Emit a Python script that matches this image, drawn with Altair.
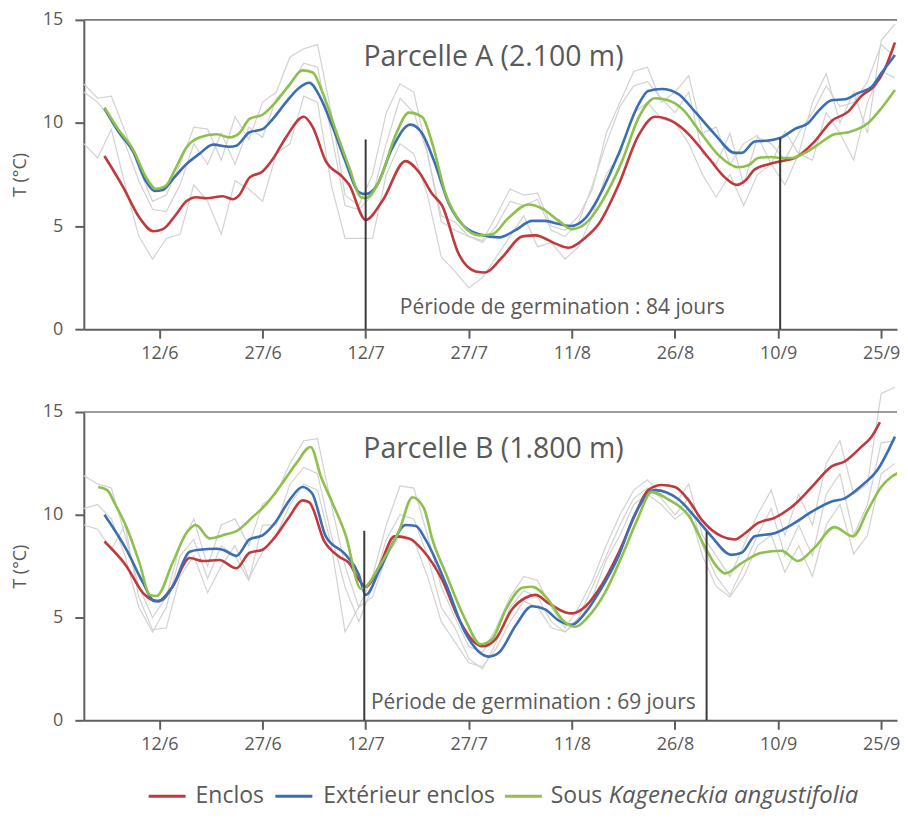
import altair as alt
import pandas as pd

FONT = "Open Sans"
TXT = "#595959"
AXC = "#5f5f5f"

BASE = pd.Timestamp("2014-06-01")
SERIES = ["Enclos", "Extérieur enclos", "Sous Kageneckia angustifolia"]
COLORS = ["#C0393C", "#3C6EB4", "#8DC04C"]
TICK_DATES = ["2014-06-12", "2014-06-27", "2014-07-12", "2014-07-27",
              "2014-08-11", "2014-08-26", "2014-09-10", "2014-09-25"]
TICK_LABELS = ["12/6", "27/6", "12/7", "27/7", "11/8", "26/8", "10/9", "25/9"]
PANEL_TITLES = ["Parcelle A (2.100 m)", "Parcelle B (1.800 m)"]
GERM_TEXTS = ["Période de germination : 84 jours", "Période de germination : 69 jours"]

# ---- Parcelle A: smoothed series (day offset from 1 June, T °C)
A_red_days = [3, 5.7, 8.1, 10.1, 11.5, 13.5, 14.9, 16.4, 17.8, 20.2, 21.7, 22.6, 24.1, 26, 27.5, 29.4, 32, 33.3, 35.2, 37.6,
              38.6, 41, 43.4, 46.8, 48.8, 50.7, 52.1, 54.6, 57, 58.4, 60.9, 63.8, 65.7, 68.6, 70.5, 73, 74.9, 77.8, 80.7, 83.1,
              86, 88, 90.9, 93.3, 95, 96.2, 97.6, 99.6, 101.5, 103.4, 106.3, 108.8, 111.2, 113.1, 115, 116.5, 118]
A_red = [8.4, 6.9, 5.4, 4.75, 4.85, 5.6, 6.2, 6.4, 6.35, 6.45, 6.3, 6.5, 7.35, 7.65, 8.25, 9.3, 10.3, 9.8, 8.15, 7.4,
         7.0, 5.3, 6.2, 8.15, 7.6, 6.55, 6.0, 3.6, 2.8, 2.75, 3.5, 4.5, 4.55, 4.15, 3.95, 4.45, 5.1, 7.0, 9.4, 10.3,
         10.0, 9.45, 8.3, 7.35, 7.0, 7.2, 7.75, 8.0, 8.15, 8.3, 9.1, 10.1, 10.55, 11.3, 11.8, 12.6, 13.9]
A_blue_days = [3, 5, 7.2, 9, 10.3, 11.5, 13, 14.9, 16.8, 18.8, 21.2, 22.2, 24.1, 26, 27.5, 29.4, 31.3, 32.8, 34.3, 36.2,
               38.1, 40, 41, 42.5, 44.9, 47.5, 49.2, 50.9, 53.1, 55, 57.5, 60.4, 62.8, 65.2, 67.1, 69.1, 70.8, 73, 74.9, 77.8,
               80.7, 82.1, 84.1, 86.5, 88.9, 91.8, 94.7, 95.7, 97.6, 99.6, 101.5, 103.4, 105.4, 106.8, 108.8, 110.7, 112.6,
               114.6, 116, 118]
A_blue = [10.7, 9.6, 8.6, 7.2, 6.7, 6.75, 7.3, 8.0, 8.5, 8.95, 8.85, 8.9, 9.55, 9.7, 10.2, 11.0, 11.7, 11.95, 11.3, 9.8,
          8.1, 6.65, 6.55, 6.9, 8.8, 9.92, 9.5, 8.2, 6.1, 5.1, 4.6, 4.45, 4.8, 5.25, 5.25, 5.1, 5.0, 5.4, 6.4, 8.5,
          10.9, 11.55, 11.65, 11.4, 10.55, 9.45, 8.55, 8.55, 9.1, 9.15, 9.3, 9.7, 10.0, 10.55, 11.1, 11.15, 11.45,
          11.75, 12.4, 13.3]
A_green_days = [3, 5, 7.2, 9, 10.5, 11.9, 13.5, 14.9, 16.8, 19.3, 21.2, 22.6, 24.1, 26, 28, 29.9, 31.8, 33.3, 34.7, 36.7,
                38.6, 40.3, 41, 43, 45.4, 47.3, 49.2, 50.7, 52.6, 55, 57.5, 59.4, 61.8, 64.7, 66.7, 69.1, 71, 73.4, 75.4,
                78.3, 80.7, 83.1, 85, 87, 89.9, 92.3, 95.2, 96.7, 98.1, 100, 101.5, 103, 104.9, 106.8, 109.2, 111.2, 114.1,
                116, 118]
A_green = [10.75, 9.7, 8.7, 7.4, 6.8, 6.95, 7.9, 8.8, 9.3, 9.45, 9.3, 9.5, 10.2, 10.4, 11.05, 11.85, 12.55, 12.45, 11.5, 9.6,
           7.85, 6.4, 6.35, 7.2, 9.45, 10.5, 10.3, 9.0, 6.6, 5.1, 4.55, 4.6, 5.4, 6.05, 5.85, 5.25, 4.85, 5.25, 6.2,
           8.15, 10.25, 11.2, 11.1, 10.7, 9.45, 8.45, 7.85, 7.95, 8.3, 8.35, 8.3, 8.3, 8.55, 8.95, 9.45, 9.55, 10.0,
           10.7, 11.6]

# ---- Parcelle B: smoothed series
B_red_days = [3, 6.2, 8.6, 10, 10.8, 12.9, 15.4, 17.3, 19.7, 22.2, 24.1, 26, 27.9, 29.9, 31.8, 32.8, 35, 37.2, 38.6, 40,
              41, 43, 45.2, 47.3, 49.5, 52.1, 54.6, 57, 58, 59.9, 62.3, 64.2, 65.7, 67.6, 70.1, 71, 73, 74.9, 77.8, 80.2,
              82.1, 84.1, 86, 88, 89.9, 92.8, 94.7, 96.2, 98.1, 100.5, 103.4, 105.9, 108.8, 110.7, 113.1, 114.6, 115.8]
B_red = [8.7, 7.5, 6.2, 5.85, 5.8, 6.5, 7.9, 7.75, 7.8, 7.4, 8.15, 8.3, 8.95, 9.9, 10.7, 10.6, 8.7, 7.95, 7.65, 6.85,
         6.5, 7.5, 8.95, 8.85, 8.2, 6.85, 4.9, 3.75, 3.6, 3.95, 5.4, 5.95, 6.1, 5.7, 5.25, 5.2, 5.55, 6.35, 8.15, 10.0,
         11.2, 11.45, 11.35, 10.7, 9.75, 8.95, 8.8, 9.1, 9.6, 9.85, 10.5, 11.35, 12.35, 12.6, 13.3, 13.8, 14.5]
B_blue_days = [3, 6.2, 8.6, 10.3, 11, 12.9, 15.4, 16.8, 19.3, 20.2, 22.2, 24.1, 26, 27.9, 29.9, 31.8, 33.2, 35.2, 38.1, 40,
               41, 43, 44.9, 46.8, 48.3, 49.7, 52.6, 55.5, 58.9, 60.4, 62.8, 65.2, 67.1, 69.1, 71, 73, 74.9, 77.8, 80.2,
               83.1, 86.5, 88.9, 91.3, 94.2, 95.7, 97.6, 100.5, 103.4, 105.9, 108.8, 110.7, 113.1, 115.5, 118]
B_blue = [10.0, 8.3, 6.7, 5.8, 5.8, 6.5, 8.2, 8.3, 8.35, 8.3, 8.0, 8.8, 9.0, 9.65, 10.7, 11.35, 11.05, 8.95, 8.05, 7.1,
          6.1, 7.3, 8.6, 9.5, 9.45, 8.8, 6.7, 4.25, 3.1, 3.3, 4.6, 5.55, 5.4, 4.85, 4.65, 5.25, 6.2, 8.0, 10.05,
          11.2, 10.75, 9.9, 8.95, 8.05, 8.15, 8.95, 9.1, 9.6, 10.15, 10.65, 10.8, 11.4, 12.2, 13.8]
B_green_days = [2.1, 3.4, 4.5, 6.2, 8.1, 9.6, 10.6, 12.9, 14.9, 16.3, 18.3, 20.7, 22.2, 24.6, 26.5, 28.9, 30.9, 33, 34.5,
                36.2, 38.1, 40.3, 41, 43, 45.9, 47.8, 49.5, 50.7, 52.6, 55.5, 57.7, 59.4, 61.4, 63.8, 65.2, 67.6, 69.6,
                71.5, 73.4, 75.8, 78.3, 80.5, 82.6, 85, 88, 90.4, 91.8, 93.3, 95.7, 98.6, 101.5, 103.9, 106.3, 109.2,
                111.9, 114.1, 116, 117.5, 118.9]
B_green = [11.35, 11.2, 10.55, 9.4, 7.65, 6.1, 6.05, 7.65, 9.1, 9.5, 8.85, 9.05, 9.2, 9.9, 10.5, 11.55, 12.5, 13.3, 11.85,
           10.55, 9.0, 6.4, 6.5, 7.5, 9.25, 10.85, 10.3, 8.8, 7.2, 4.9, 3.7, 3.95, 5.4, 6.45, 6.5, 5.85, 4.9,
           4.55, 5.05, 6.2, 8.0, 9.75, 11.1, 10.75, 9.95, 8.4, 7.6, 7.15, 7.65, 8.15, 8.25, 7.75, 8.4, 9.4,
           8.95, 10.25, 11.35, 11.85, 12.1]

# ---- raw daily readings (grey), every second day
GREY_DAYS = list(range(0, 119, 2))
GA1 = [11.9, 11.2, 11.3, 9.6, 7.8, 6.2, 6.5, 8.0, 9.8, 9.7, 8.2, 10.3, 9.2, 11.0, 11.5, 13.2, 13.6, 13.8, 10.5, 6.5,
       6.0, 7.5, 10.5, 11.9, 11.5, 8.5, 5.5, 5.2, 4.5, 4.3, 5.5, 6.8, 6.5, 6.6, 5.0, 4.8, 5.5, 6.8, 9.5, 11.0,
       12.5, 12.7, 11.0, 11.5, 12.3, 9.5, 9.8, 8.0, 9.0, 9.4, 8.0, 9.6, 8.5, 11.0, 12.4, 10.0, 11.5, 9.5, 14.0, 14.8]
GA2 = [11.5, 11.0, 10.2, 9.0, 7.2, 5.8, 5.7, 7.0, 9.0, 8.0, 9.5, 8.0, 9.8, 9.3, 11.2, 11.8, 12.9, 12.7, 9.5, 6.0,
       5.8, 6.5, 9.0, 11.2, 10.5, 8.5, 5.2, 4.8, 4.5, 4.2, 5.0, 6.2, 6.0, 6.3, 4.8, 4.5, 5.2, 7.0, 9.0, 10.8,
       11.8, 12.0, 11.2, 10.5, 11.5, 8.5, 8.0, 9.5, 7.0, 9.3, 9.0, 8.2, 9.5, 10.5, 11.8, 10.8, 11.0, 12.0, 13.8, 13.2]
GA3 = [9.0, 8.3, 9.7, 7.0, 4.5, 3.4, 4.4, 4.6, 7.0, 6.2, 4.6, 7.2, 6.8, 6.2, 8.5, 9.0, 11.3, 11.0, 7.0, 4.4,
       4.4, 4.4, 7.5, 9.0, 8.5, 6.5, 3.5, 2.8, 2.0, 2.5, 3.5, 4.5, 5.5, 4.0, 4.2, 3.4, 4.0, 5.5, 7.5, 8.5,
       10.5, 11.0, 10.2, 10.0, 9.0, 7.5, 6.4, 7.5, 6.0, 7.5, 8.0, 7.0, 8.5, 8.2, 10.5, 9.5, 8.2, 11.0, 12.5, 12.2]
GB1 = [11.9, 11.5, 11.3, 9.0, 6.5, 5.0, 6.0, 8.5, 9.8, 7.5, 9.5, 9.8, 8.5, 10.5, 11.0, 12.5, 13.6, 13.7, 10.5, 7.5,
       5.5, 7.0, 9.5, 11.4, 11.3, 9.0, 6.5, 5.0, 3.6, 3.3, 4.5, 6.0, 7.0, 6.8, 5.5, 4.5, 5.5, 6.8, 8.5, 10.0,
       11.2, 11.7, 11.0, 10.5, 11.5, 9.0, 8.0, 7.0, 8.5, 10.0, 11.2, 9.0, 11.0, 9.5, 12.5, 13.6, 11.0, 11.5, 15.9, 16.2]
GB2 = [10.3, 10.5, 9.8, 8.0, 5.5, 4.3, 5.5, 8.0, 8.8, 6.9, 8.5, 8.0, 6.8, 9.5, 9.5, 11.5, 12.3, 12.0, 9.0, 6.5,
       4.8, 6.5, 8.8, 10.0, 9.8, 8.0, 5.5, 4.5, 3.0, 2.5, 3.8, 5.5, 6.3, 6.0, 4.8, 4.3, 5.0, 6.5, 8.0, 9.5,
       10.8, 11.3, 10.8, 10.0, 10.8, 8.5, 7.0, 6.1, 7.5, 9.0, 10.3, 8.0, 9.5, 8.0, 11.0, 12.0, 9.0, 10.5, 13.5, 13.6]
GB3 = [9.5, 9.3, 8.3, 9.5, 6.0, 4.4, 4.5, 7.0, 8.0, 6.2, 7.5, 8.5, 6.9, 8.2, 9.0, 10.5, 11.5, 11.2, 8.5, 4.3,
       5.5, 6.0, 8.0, 9.0, 8.8, 7.0, 4.8, 3.8, 2.8, 2.6, 3.5, 4.8, 5.8, 5.5, 4.5, 4.3, 4.8, 6.0, 7.8, 9.0,
       10.5, 11.0, 10.5, 9.8, 10.3, 8.0, 6.5, 6.0, 7.0, 8.5, 9.0, 7.2, 8.5, 7.0, 9.5, 10.5, 8.1, 9.0, 12.0, 12.5]

# germination period limits (day offset, top of the line in °C)
GERM_A = [(41, 9.2), (101.3, 9.28)]
GERM_B = [(40.8, 9.22), (90.6, 9.19)]

DAY_MAX = 118.3
PLOT_W = 815

TICK_DAYS = [(pd.Timestamp(d) - BASE).days for d in TICK_DATES]
label_expr = "''"
for d, lab in reversed(list(zip(TICK_DAYS, TICK_LABELS))):
    label_expr = f"datum.value == {d} ? '{lab}' : ({label_expr})"


def series_df(triples):
    rows = []
    for name, days, vals in triples:
        assert len(days) == len(vals), name
        for d, v in zip(days, vals):
            rows.append({"day": d, "T": v, "series": name})
    return pd.DataFrame(rows)


X = alt.X("day:Q",
          scale=alt.Scale(domain=[0, DAY_MAX], nice=False, zero=False),
          axis=alt.Axis(values=TICK_DAYS, labelExpr=label_expr, title=None, grid=False,
                        tickSize=9, tickWidth=2, tickColor=AXC, domainColor=AXC, domainWidth=2,
                        labelColor=TXT, labelFontSize=18, labelFont=FONT, labelPadding=6,
                        labelFlush=False))

Y = alt.Y("T:Q",
          scale=alt.Scale(domain=[0, 15], nice=False),
          axis=alt.Axis(values=[0, 5, 10, 15], title="T (°C)", titleFontWeight="normal", titleFontSize=18,
                        titleColor=TXT, titleFont=FONT, titlePadding=13, grid=False,
                        tickSize=9, tickWidth=2, tickColor=AXC, domainColor=AXC, domainWidth=2,
                        labelColor=TXT, labelFontSize=18, labelFont=FONT, labelPadding=12))


def panel(smooth, grey, germ, title, germ_text, title_day, title_T, text_day, text_T, height):
    grey_df = series_df(grey)
    smooth_df = series_df(smooth)
    germ_df = pd.DataFrame({"day": [d for d, _ in germ], "T": [0.0] * len(germ),
                            "T2": [t for _, t in germ]})
    top_df = pd.DataFrame({"T": [15.0]})
    title_df = pd.DataFrame({"day": [title_day], "T": [title_T], "label": [title]})
    text_df = pd.DataFrame({"day": [text_day], "T": [text_T], "label": [germ_text]})

    grey_l = alt.Chart(grey_df).mark_line(color="#d2d2d2", strokeWidth=1.2).encode(
        x=X, y=Y, detail="series:N")
    smooth_l = alt.Chart(smooth_df).mark_line(strokeWidth=2.6, interpolate="monotone", clip=True).encode(
        x=X, y=Y,
        color=alt.Color("series:N", scale=alt.Scale(domain=SERIES, range=COLORS), legend=None))
    top_l = alt.Chart(top_df).mark_rule(color="#7a7a7a", strokeWidth=1.6).encode(y="T:Q")
    germ_l = alt.Chart(germ_df).mark_rule(color="#3a3a3a", strokeWidth=2).encode(x="day:Q", y="T:Q", y2="T2:Q")
    title_l = alt.Chart(title_df).mark_text(fontSize=28.5, font=FONT, color=TXT, baseline="middle").encode(
        x="day:Q", y="T:Q", text="label:N")
    text_l = alt.Chart(text_df).mark_text(fontSize=21, font=FONT, color=TXT, baseline="middle").encode(
        x="day:Q", y="T:Q", text="label:N")
    return alt.layer(grey_l, smooth_l, top_l, germ_l, title_l, text_l).properties(width=PLOT_W, height=height)


pA = panel([(SERIES[0], A_red_days, A_red), (SERIES[1], A_blue_days, A_blue), (SERIES[2], A_green_days, A_green)],
           [("g1", GREY_DAYS, GA1), ("g2", GREY_DAYS, GA2), ("g3", GREY_DAYS, GA3)],
           GERM_A, PANEL_TITLES[0], GERM_TEXTS[0], 59.6, 13.2, 69.6, 1.05, 310)
pB = panel([(SERIES[0], B_red_days, B_red), (SERIES[1], B_blue_days, B_blue), (SERIES[2], B_green_days, B_green)],
           [("g1", GREY_DAYS, GB1), ("g2", GREY_DAYS, GB2), ("g3", GREY_DAYS, GB3)],
           GERM_B, PANEL_TITLES[1], GERM_TEXTS[1], 59.6, 13.2, 65.4, 0.85, 309)

# ---- custom legend (the species name is in italics)
LEG_Y = -7
sym_x = [65, 192, 422]
txt_x = [112, 240, 468]
legend_layers = []
for i, name in enumerate(SERIES):
    one = pd.DataFrame({"label": [name]})
    legend_layers.append(alt.Chart(one).mark_rule(color=COLORS[i], strokeWidth=3).encode(
        x=alt.value(sym_x[i]), x2=alt.value(sym_x[i] + 37), y=alt.value(LEG_Y)))
    parts = name.split(" ", 1) if i == 2 else [name]
    legend_layers.append(alt.Chart(pd.DataFrame({"label": [parts[0]]})).mark_text(
        align="left", baseline="middle", fontSize=23, font=FONT, color=TXT).encode(
        x=alt.value(txt_x[i]), y=alt.value(LEG_Y), text="label:N"))
    if len(parts) > 1:
        legend_layers.append(alt.Chart(pd.DataFrame({"label": [parts[1]]})).mark_text(
            align="left", baseline="middle", fontSize=24, font=FONT, color=TXT, fontStyle="italic").encode(
            x=alt.value(txt_x[i] + 58), y=alt.value(LEG_Y), text="label:N"))
legend = alt.layer(*legend_layers).properties(width=PLOT_W, height=1)

chart = alt.vconcat(pA, pB, legend, spacing=83, bounds="flush").properties(
    padding={"left": 3, "top": 2, "right": 0, "bottom": 0}
).configure(font=FONT).configure_view(stroke=None)

chart.save("out.html", embed_options={"renderer": "svg", "actions": False})
